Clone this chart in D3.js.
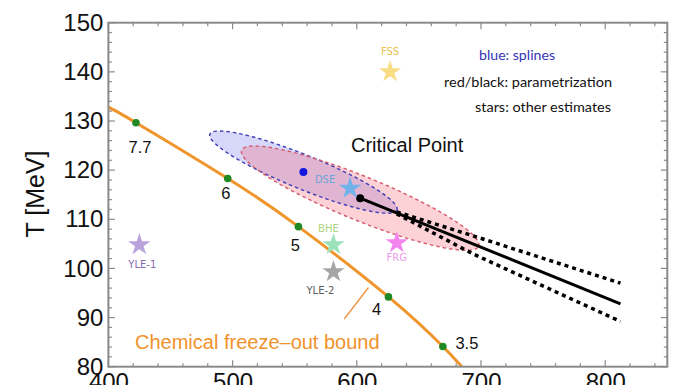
<!DOCTYPE html>
<html>
<head>
<meta charset="utf-8">
<script src="https://cdn.jsdelivr.net/npm/d3@7"></script>
<style>
  html, body { margin: 0; padding: 0; background: #fff; }
  svg { display: block; }
</style>
</head>
<body>
<svg id="chart" width="696" height="385"></svg>
<script>
// ---------------- data ----------------
const xDomain = [400, 850];
const yDomain = [80, 150];
const xTickLabels = [400, 500, 600, 700, 800];
const yTickLabels = [80, 90, 100, 110, 120, 130, 140, 150];

// chemical freeze-out curve (muB [MeV], T [MeV])
const freezeMu = [400, 422.2, 496.1, 553.0, 625.5, 669.3, 684.6, 690];
const freezeT  = [132.8, 129.65, 118.3, 108.5, 94.2, 84.1, 80.0, 78.8];

// collision energies along the curve
const energyLabels = ["7.7", "6", "5", "4", "3.5"];
const energyMu = [422.2, 496.1, 553.0, 625.5, 669.3];
const energyT  = [129.65, 118.3, 108.5, 94.2, 84.1];

// critical point (parametrization) and first-order line
const cpMu = 602.7, cpT = 114.3;
const lineMu = [602.7, 812.3];
const lineT  = [114.3, 92.8];
const upperMu = [632.2, 694, 812.3];
const upperT  = [111.5, 106.6, 97.0];
const lowerMu = [632.2, 694, 812.3];
const lowerT  = [111.1, 102.9, 89.2];

// spline estimate (blue)
const splineMu = 557, splineT = 119.6;

// uncertainty ellipses: center, semi-major vector, semi-minor vector (data units)
const blueEllipse = { c: [557, 119.6], major: [75.3, -7.73], minor: [5.15, 3.2] };
const redEllipse  = { c: [602.7, 114.3], major: [95.4, -9.77], minor: [6.65, 4.15] };

// other estimates (stars)
const starNames = ["FSS", "DSE", "BHE", "YLE-2", "FRG", "YLE-1"];
const starMu = [626.8, 594.6, 581.2, 581.2, 632.2, 424.9];
const starT  = [140.0, 116.3, 104.8, 99.3, 105.2, 104.8];
const starColors = ["#f9dd84", "#72b2ea", "#9be2bb", "#a6a6a6", "#f384f0", "#baa3dc"];
const starLabelColors = ["#e9c24e", "#6aa6da", "#a9d47e", "#5c5c5c", "#ea9aea", "#8a6cb2"];

const legendLines = ["blue: splines", "red/black: parametrization", "stars: other estimates"];

// ---------------- drawing ----------------
const svg = d3.select("#chart");
const L = 108.4, R = 667.3, T0 = 22.7, B = 366.7;
const x = d3.scaleLinear().domain(xDomain).range([L, R]);
const y = d3.scaleLinear().domain(yDomain).range([B, T0]);

svg.append("defs").append("clipPath").attr("id", "clip")
  .append("rect").attr("x", L).attr("y", T0).attr("width", R - L).attr("height", B - T0);

const plot = svg.append("g").attr("clip-path", "url(#clip)");

// ellipses
function ellipsePts(e) {
  return d3.range(0, 361, 3).map(a => {
    const t = a * Math.PI / 180;
    return [e.c[0] + e.major[0] * Math.cos(t) + e.minor[0] * Math.sin(t),
            e.c[1] + e.major[1] * Math.cos(t) + e.minor[1] * Math.sin(t)];
  });
}
const eLine = d3.line().x(d => x(d[0])).y(d => y(d[1])).curve(d3.curveLinearClosed);

plot.append("path").attr("d", eLine(ellipsePts(blueEllipse)))
  .attr("fill", "rgba(110,110,235,0.28)").attr("stroke", "none");
plot.append("path").attr("d", eLine(ellipsePts(redEllipse)))
  .attr("fill", "rgba(245,95,110,0.28)").attr("stroke", "none");
plot.append("path").attr("d", eLine(ellipsePts(blueEllipse)))
  .attr("fill", "none").attr("stroke", "#3c3cb4").attr("stroke-width", 1.4).attr("stroke-dasharray", "3.5,3");
plot.append("path").attr("d", eLine(ellipsePts(redEllipse)))
  .attr("fill", "none").attr("stroke", "#d45a6c").attr("stroke-width", 1.4).attr("stroke-dasharray", "3.5,3");

// freeze-out curve
const fLine = d3.line().x(d => x(d[0])).y(d => y(d[1])).curve(d3.curveNatural);
plot.append("path").attr("d", fLine(freezeMu.map((m, i) => [m, freezeT[i]])))
  .attr("fill", "none").attr("stroke", "#f0952c").attr("stroke-width", 3);

// small pointer line
const ptrMu = [589.9, 609.4], ptrT = [89.7, 96.1];
plot.append("line")
  .attr("x1", x(ptrMu[0])).attr("y1", y(ptrT[0]))
  .attr("x2", x(ptrMu[1])).attr("y2", y(ptrT[1]))
  .attr("stroke", "#ee9a4a").attr("stroke-width", 1.5);

// energy dots and labels
const lblOff = [[4, 24], [-2, 15], [-3, 18], [-12, 12], [24, -4]];
energyMu.forEach((m, i) => {
  plot.append("circle").attr("cx", x(m)).attr("cy", y(energyT[i])).attr("r", 3.8).attr("fill", "#1f8a24");
  svg.append("text").attr("x", x(m) + lblOff[i][0]).attr("y", y(energyT[i]) + lblOff[i][1])
    .attr("text-anchor", "middle").attr("dominant-baseline", "central")
    .attr("font-family", "Liberation Sans, Arial, sans-serif").attr("font-size", 16.5)
    .attr("fill", "#111").text(energyLabels[i]);
});

// dotted uncertainty lines
const sLine = d3.line().x(d => x(d[0])).y(d => y(d[1]));
[[upperMu, upperT], [lowerMu, lowerT]].forEach(([ms, ts]) => {
  plot.append("path").attr("d", sLine(ms.map((m, i) => [m, ts[i]])))
    .attr("fill", "none").attr("stroke", "#000").attr("stroke-width", 3.5).attr("stroke-dasharray", "4,4");
});
// solid line
plot.append("path").attr("d", sLine(lineMu.map((m, i) => [m, lineT[i]])))
  .attr("fill", "none").attr("stroke", "#000").attr("stroke-width", 3);
plot.append("circle").attr("cx", x(cpMu)).attr("cy", y(cpT)).attr("r", 4).attr("fill", "#000");

// spline CP
plot.append("circle").attr("cx", x(splineMu)).attr("cy", y(splineT)).attr("r", 4).attr("fill", "#1515e0");

// stars
const star = d3.symbol().type(d3.symbolStar).size(155);
const starLblOff = [[0, -20], [-25, -9], [-5, -16], [-13, 19], [0, 15], [3, 20]];
starNames.forEach((n, i) => {
  plot.append("path").attr("d", star())
    .attr("transform", `translate(${x(starMu[i])},${y(starT[i])})`)
    .attr("fill", starColors[i]);
  svg.append("text").attr("x", x(starMu[i]) + starLblOff[i][0]).attr("y", y(starT[i]) + starLblOff[i][1])
    .attr("text-anchor", "middle").attr("dominant-baseline", "central")
    .attr("font-family", "DejaVu Sans, sans-serif").attr("font-size", 10)
    .attr("fill", starLabelColors[i]).text(n);
});

// frame
svg.append("rect").attr("x", L).attr("y", T0).attr("width", R - L).attr("height", B - T0)
  .attr("fill", "none").attr("stroke", "#8a8a8a").attr("stroke-width", 2);

// ticks
const xMinor = d3.range(400, 851, 20);
const yMinor = d3.range(80, 151, 2);
const tickColor = "#8a8a8a";
function drawTicks(vals, len, isX) {
  vals.forEach(v => {
    if (isX) {
      svg.append("line").attr("x1", x(v)).attr("x2", x(v)).attr("y1", B).attr("y2", B - len).attr("stroke", tickColor).attr("stroke-width", 1.2);
      svg.append("line").attr("x1", x(v)).attr("x2", x(v)).attr("y1", T0).attr("y2", T0 + len).attr("stroke", tickColor).attr("stroke-width", 1.2);
    } else {
      svg.append("line").attr("x1", L).attr("x2", L + len).attr("y1", y(v)).attr("y2", y(v)).attr("stroke", tickColor).attr("stroke-width", 1.2);
      svg.append("line").attr("x1", R).attr("x2", R - len).attr("y1", y(v)).attr("y2", y(v)).attr("stroke", tickColor).attr("stroke-width", 1.2);
    }
  });
}
drawTicks(xMinor.filter(v => v % 100 !== 0), 3.5, true);
drawTicks(xTickLabels, 6.5, true);
drawTicks(yMinor.filter(v => v % 10 !== 0), 3.5, false);
drawTicks(yTickLabels, 6.5, false);

// axes labels via d3 axes
const axL = d3.axisLeft(y).tickValues(yTickLabels).tickSize(0).tickPadding(5);
const gL = svg.append("g").attr("transform", `translate(${L},0)`).call(axL);
gL.select(".domain").remove();
gL.selectAll("text").attr("font-family", "Liberation Sans, Arial, sans-serif").attr("font-size", 24).attr("fill", "#111");

const axB = d3.axisBottom(x).tickValues(xTickLabels).tickSize(0).tickPadding(6);
const gB = svg.append("g").attr("transform", `translate(0,${B})`).call(axB);
gB.select(".domain").remove();
gB.selectAll("text").attr("font-family", "Liberation Sans, Arial, sans-serif").attr("font-size", 24).attr("fill", "#111");

// y-axis title
svg.append("text").attr("transform", `translate(44,194) rotate(-90)`)
  .attr("text-anchor", "middle").attr("font-family", "Liberation Sans, Arial, sans-serif")
  .attr("font-size", 25).attr("fill", "#111").text("T [MeV]");

// annotations
svg.append("text").attr("x", 351).attr("y", 152)
  .attr("font-family", "Liberation Sans, Arial, sans-serif").attr("font-size", 20).attr("fill", "#111")
  .text("Critical Point");
svg.append("text").attr("x", 135).attr("y", 349)
  .attr("font-family", "Liberation Sans, Arial, sans-serif").attr("font-size", 20).attr("fill", "#f0922c")
  .text("Chemical freeze\u2013out bound");

// legend
const legX = [479, 444, 475];
const legY = [55, 82, 107];
const legW = [76, 168, 136];
const legC = ["#3434b8", "#111", "#111"];
legendLines.forEach((t, i) => {
  svg.append("text").attr("x", legX[i]).attr("y", legY[i]).attr("dominant-baseline", "central")
    .attr("font-family", "Lato, DejaVu Sans, sans-serif").attr("font-size", 13)
    .attr("textLength", legW[i]).attr("lengthAdjust", "spacingAndGlyphs")
    .attr("fill", legC[i]).text(t);
});
</script>
</body>
</html>
